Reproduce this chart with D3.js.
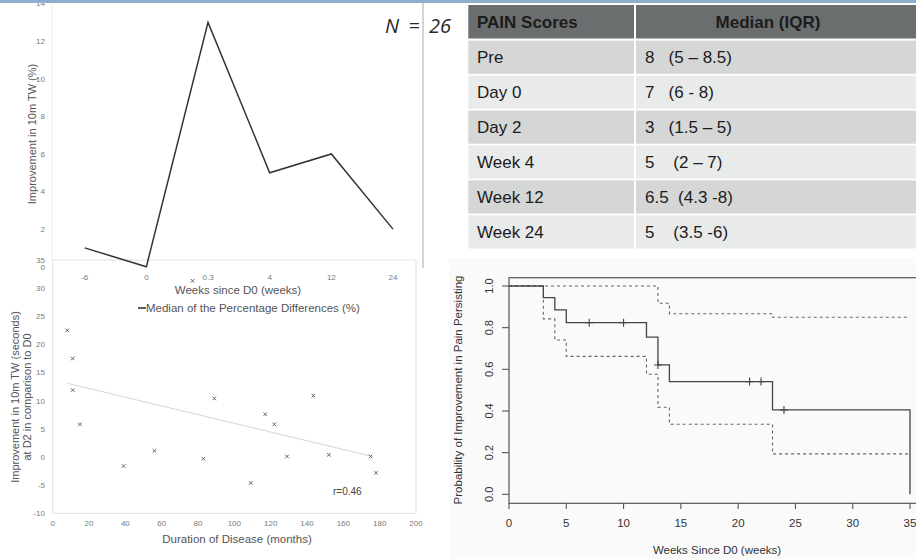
<!DOCTYPE html>
<html>
<head>
<meta charset="utf-8">
<script src="https://cdn.jsdelivr.net/npm/d3@7"></script>
<style>
  html, body { margin: 0; padding: 0; background: #fff; }
  svg { display: block; font-family: "Liberation Sans", Arial, sans-serif; }
</style>
</head>
<body>
<svg id="chart"></svg>
<script>
// --- data ---------------------------------------------------------------
const weekCats   = ["-6", "0", "0.3", "4", "12", "24"];
const medianDiff = [1, 0, 13, 5, 6, 2];
const topYTicks  = [0, 2, 4, 6, 8, 10, 12, 14];

const durationMonths = [8, 11, 11, 15, 39, 56, 77, 83, 89, 109, 117, 122, 129, 143.5, 152, 175, 178];
const improvementSec = [22.5, 17.5, 11.9, 5.8, -1.6, 1.1, 31.3, -0.3, 10.4, -4.6, 7.6, 5.8, 0.1, 10.9, 0.4, 0.1, -2.8];
const trendX = [8, 176];
const trendY = [13.1, 0.1];
const scatterXTicks = [0, 20, 40, 60, 80, 100, 120, 140, 160, 180, 200];
const scatterYTicks = [-10, -5, 0, 5, 10, 15, 20, 25, 30, 35];

const painLabels  = ["Pre", "Day 0", "Day 2", "Week 4", "Week 12", "Week 24"];
const painMedians = ["8   (5 \u2013 8.5)", "7   (6 - 8)", "3   (1.5 \u2013 5)", "5    (2 \u2013 7)", "6.5  (4.3 -8)", "5    (3.5 -6)"];

const survTime    = [0, 3, 4, 5, 12, 13, 14, 23, 35];
const survProb    = [1, 0.944, 0.885, 0.824, 0.755, 0.621, 0.541, 0.405, 0];
const upperTime   = [0, 13, 14, 23, 35];
const upperProb   = [1, 0.917, 0.867, 0.85, 0.85];
const lowerTime   = [0, 3, 4, 5, 12, 13, 14, 23, 35];
const lowerProb   = [1, 0.842, 0.741, 0.662, 0.576, 0.418, 0.336, 0.194, 0.194];
const censorTime  = [7, 10, 13, 21, 22, 24];
const censorProb  = [0.824, 0.824, 0.621, 0.541, 0.541, 0.405];
const kmXTicks    = [0, 5, 10, 15, 20, 25, 30, 35];
const kmYTicks    = [0, 0.2, 0.4, 0.6, 0.8, 1.0];

// --- canvas -------------------------------------------------------------
const W = 916, H = 559;
const svg = d3.select('#chart').attr('width', W).attr('height', H);
const grey = '#7a7a7a';

// --- scatter: duration vs improvement (drawn first, sits underneath) ---
const sx = d3.scaleLinear().domain([0, 200]).range([52.7, 416]);
const sy = d3.scaleLinear().domain([-10, 35]).range([513.3, 260]);
const sc = svg.append('g');

sc.append('rect')
    .attr('x', sx(0)).attr('y', sy(35))
    .attr('width', sx(200) - sx(0)).attr('height', sy(-10) - sy(35))
    .attr('fill', 'none').attr('stroke', '#e2e2e2');

sc.selectAll('.syt').data(scatterYTicks).join('text')
    .attr('x', 45).attr('y', d => sy(d)).attr('dy', '0.35em')
    .attr('text-anchor', 'end').style('font-size', '8px').attr('fill', grey)
    .text(d => d);
sc.selectAll('.sxt').data(scatterXTicks).join('text')
    .attr('x', d => sx(d)).attr('y', 523).attr('dy', '0.35em')
    .attr('text-anchor', 'middle').style('font-size', '8px').attr('fill', grey)
    .text(d => d);

sc.append('line')
    .attr('x1', sx(trendX[0])).attr('y1', sy(trendY[0]))
    .attr('x2', sx(trendX[1])).attr('y2', sy(trendY[1]))
    .attr('stroke', '#d6d6d6').attr('stroke-width', 1);

const pts = durationMonths.map((d, i) => ({x: d, y: improvementSec[i]}));
sc.selectAll('.pt').data(pts).join('path')
    .attr('transform', d => `translate(${sx(d.x)},${sy(d.y)})`)
    .attr('d', d3.symbol(d3.symbolX, 10))
    .attr('fill', 'none').attr('stroke', '#555').attr('stroke-width', 0.9);

sc.append('text').attr('x', 333).attr('y', 491).attr('dy', '0.35em')
    .style('font-size', '10px').attr('fill', '#444').text('r=0.46');

sc.append('text').attr('x', 237).attr('y', 539).attr('dy', '0.35em')
    .attr('text-anchor', 'middle').style('font-size', '11.5px').attr('fill', '#555')
    .text('Duration of Disease (months)');

const syTitle = sc.append('text')
    .attr('transform', 'translate(21,397) rotate(-90)')
    .attr('text-anchor', 'middle').style('font-size', '11px').attr('fill', '#555');
syTitle.append('tspan').attr('x', 0).attr('dy', '-0.2em').text('Improvement in 10m TW (seconds)');
syTitle.append('tspan').attr('x', 0).attr('dy', '1.1em').text('at D2 in comparison to D0');

// --- line chart: median % difference by week ----------------------------
const lx = d3.scalePoint().domain(weekCats).range([84.7, 393]);
const ly = d3.scaleLinear().domain([0, 14]).range([266.7, 3.6]);
const lc = svg.append('g');

lc.append('line').attr('x1', 52).attr('x2', 52).attr('y1', 3).attr('y2', 260)
    .attr('stroke', '#ececec');

lc.selectAll('.lyt').data(topYTicks).join('text')
    .attr('x', 45).attr('y', d => ly(d)).attr('dy', '0.35em')
    .attr('text-anchor', 'end').style('font-size', '8px').attr('fill', grey)
    .text(d => d);
lc.selectAll('.lxt').data(weekCats).join('text')
    .attr('x', d => lx(d)).attr('y', 277).attr('dy', '0.35em')
    .attr('text-anchor', 'middle').style('font-size', '8px').attr('fill', grey)
    .text(d => d);

const line = d3.line().x((d, i) => lx(weekCats[i])).y(d => ly(d));
lc.append('path').attr('d', line(medianDiff))
    .attr('fill', 'none').attr('stroke', '#333').attr('stroke-width', 1.5)
    .attr('stroke-linejoin', 'miter');

lc.append('text')
    .attr('transform', 'translate(32,134) rotate(-90)').attr('dy', '0.35em')
    .attr('text-anchor', 'middle').style('font-size', '11px').attr('fill', '#555')
    .text('Improvement in 10m TW (%)');
lc.append('text').attr('x', 238).attr('y', 290).attr('dy', '0.35em')
    .attr('text-anchor', 'middle').style('font-size', '11.5px').attr('fill', '#555')
    .text('Weeks since D0 (weeks)');

lc.append('line').attr('x1', 138).attr('x2', 146).attr('y1', 308).attr('y2', 308)
    .attr('stroke', '#333').attr('stroke-width', 1.6);
lc.append('text').attr('x', 146).attr('y', 308).attr('dy', '0.35em')
    .style('font-size', '11.5px').attr('fill', '#555')
    .text('Median of the Percentage Differences (%)');

// divider between line chart and table
svg.append('line').attr('x1', 423).attr('x2', 423).attr('y1', 3).attr('y2', 268)
    .attr('stroke', '#c4c4c4').attr('stroke-width', 1.5);

// --- table of pain scores -----------------------------------------------
const tb = svg.append('g');
const col1 = 468.3, col2 = 636, rowH = 34.65, top0 = 40.6;
const tx = d3.scaleBand().domain(painLabels).range([top0, top0 + rowH * painLabels.length]).paddingInner(0.05);

tb.append('rect').attr('x', col1).attr('y', 5).attr('width', col2 - 2 - col1).attr('height', 33.5).attr('fill', '#6b6e6f');
tb.append('rect').attr('x', col2).attr('y', 5).attr('width', W - col2).attr('height', 33.5).attr('fill', '#6b6e6f');
tb.append('text').attr('x', 477).attr('y', 22).attr('dy', '0.35em')
    .style('font-size', '17px').style('font-weight', 'bold').attr('fill', '#1c1c1c').text('PAIN Scores');
tb.append('text').attr('x', 768).attr('y', 22).attr('dy', '0.35em').attr('text-anchor', 'middle')
    .style('font-size', '17px').style('font-weight', 'bold').attr('fill', '#1c1c1c').text('Median (IQR)');

const rows = tb.selectAll('.row').data(painLabels).join('g')
    .attr('transform', d => `translate(0,${tx(d)})`);
rows.append('rect').attr('x', col1).attr('width', col2 - 2 - col1).attr('height', tx.bandwidth())
    .attr('fill', (d, i) => i % 2 ? '#e9eaea' : '#d5d6d6');
rows.append('rect').attr('x', col2).attr('width', W - col2).attr('height', tx.bandwidth())
    .attr('fill', (d, i) => i % 2 ? '#e9eaea' : '#d5d6d6');
rows.append('text').attr('x', 477).attr('y', tx.bandwidth() / 2).attr('dy', '0.35em')
    .style('font-size', '17px').attr('fill', '#1c1c1c').text(d => d);
rows.append('text').attr('x', 645).attr('y', tx.bandwidth() / 2).attr('dy', '0.35em')
    .style('font-size', '17px').style('white-space', 'pre').attr('fill', '#1c1c1c')
    .text((d, i) => painMedians[i]);

svg.append('text').attr('x', 385).attr('y', 33)
    .style('font-family', '"Open Sans", "DejaVu Sans", sans-serif')
    .style('font-size', '20px').style('font-style', 'italic').attr('fill', '#2a2a2a')
    .style('word-spacing', '4px').style('white-space', 'pre').text('N = 26');

// --- Kaplan-Meier plot --------------------------------------------------
const kx = d3.scaleLinear().domain([0, 35]).range([509, 910]);
const ky = d3.scaleLinear().domain([0, 1]).range([494.3, 286]);
const km = svg.append('g');

km.append('rect').attr('x', 449).attr('y', 258).attr('width', W - 449).attr('height', H - 258)
    .attr('fill', '#fafafa');
km.append('rect').attr('x', 509).attr('y', 277.7).attr('width', 420).attr('height', 503.3 - 277.7)
    .attr('fill', 'none').attr('stroke', '#555').attr('stroke-width', 1.2);

km.selectAll('.kyt').data(kmYTicks).join('line')
    .attr('x1', 502).attr('x2', 509).attr('y1', d => ky(d)).attr('y2', d => ky(d))
    .attr('stroke', '#555').attr('stroke-width', 1.1);
km.selectAll('.kytl').data(kmYTicks).join('text')
    .attr('transform', d => `translate(489,${ky(d)}) rotate(-90)`).attr('dy', '0.35em')
    .attr('text-anchor', 'middle').style('font-size', '11px').attr('fill', '#333')
    .text(d => d.toFixed(1));
km.selectAll('.kxt').data(kmXTicks).join('line')
    .attr('x1', d => kx(d)).attr('x2', d => kx(d)).attr('y1', 503.3).attr('y2', 509)
    .attr('stroke', '#555').attr('stroke-width', 1.1);
km.selectAll('.kxtl').data(kmXTicks).join('text')
    .attr('x', d => kx(d)).attr('y', 523).attr('dy', '0.35em')
    .attr('text-anchor', 'middle').style('font-size', '11.5px').attr('fill', '#333')
    .text(d => d);

const step = d3.line().curve(d3.curveStepAfter).x(d => kx(d[0])).y(d => ky(d[1]));
km.append('path').attr('d', step(d3.zip(upperTime, upperProb)))
    .attr('fill', 'none').attr('stroke', '#666').attr('stroke-width', 1.1).attr('stroke-dasharray', '3,3');
km.append('path').attr('d', step(d3.zip(lowerTime, lowerProb)))
    .attr('fill', 'none').attr('stroke', '#666').attr('stroke-width', 1.1).attr('stroke-dasharray', '3,3');
km.append('path').attr('d', step(d3.zip(survTime, survProb)))
    .attr('fill', 'none').attr('stroke', '#444').attr('stroke-width', 1.3);

km.selectAll('.cens').data(d3.zip(censorTime, censorProb)).join('path')
    .attr('d', d => `M${kx(d[0]) - 4},${ky(d[1])}h8M${kx(d[0])},${ky(d[1]) - 4}v8`)
    .attr('stroke', '#444').attr('stroke-width', 1.1);

km.append('text')
    .attr('transform', 'translate(458,390) rotate(-90)').attr('dy', '0.35em')
    .attr('text-anchor', 'middle').style('font-size', '11.5px').attr('fill', '#333')
    .text('Probability of Improvement in Pain Persisting');
km.append('text').attr('x', 717).attr('y', 550).attr('dy', '0.35em')
    .attr('text-anchor', 'middle').style('font-size', '11.5px').attr('fill', '#333')
    .text('Weeks Since D0 (weeks)');

// top banner strip
svg.append('rect').attr('x', 0).attr('y', 0).attr('width', W).attr('height', 3).attr('fill', '#8fadcd');
</script>
</body>
</html>
